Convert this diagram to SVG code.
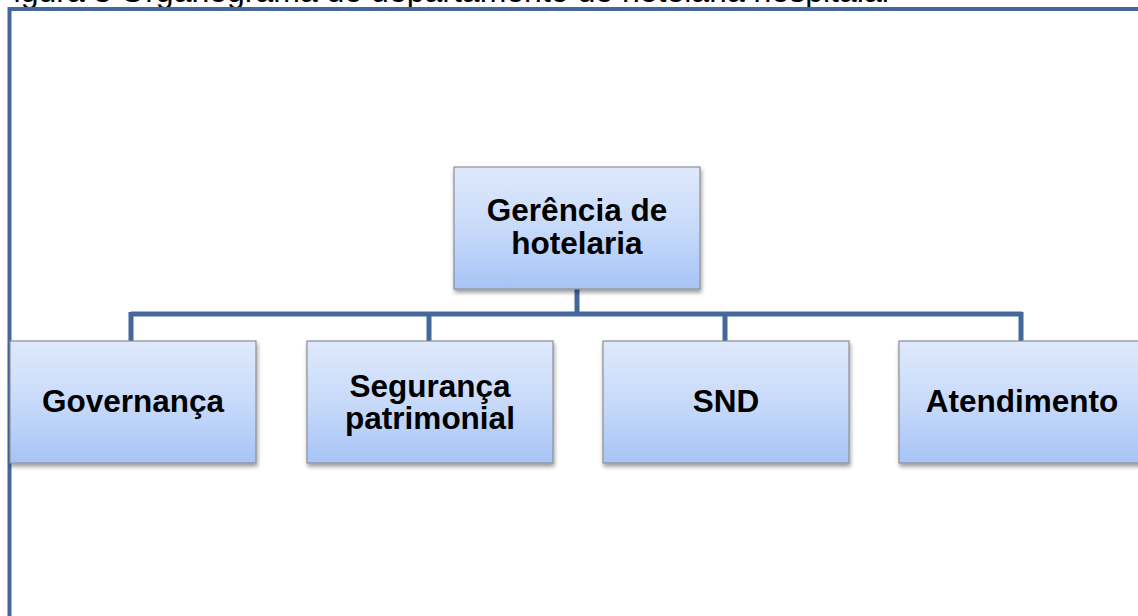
<svg xmlns="http://www.w3.org/2000/svg" width="1138" height="616" viewBox="0 0 1138 616">
<style>
.cap{font-family:"Liberation Sans",Arial,sans-serif;font-size:32px;fill:#000}
.lbl{font-family:"Liberation Sans",Arial,sans-serif;font-size:31.5px;font-weight:bold;fill:#000;text-anchor:middle}
.box{fill:url(#g);stroke:#8a8f96;stroke-width:1.2;filter:url(#sh)}
.con{fill:none;stroke:#44689a;stroke-width:5}
</style>
<defs>
<linearGradient id="g" x1="0" y1="0" x2="0" y2="1">
<stop offset="0" stop-color="#dfe9fb"/>
<stop offset="0.5" stop-color="#c8dafa"/>
<stop offset="1" stop-color="#a7c4f6"/>
</linearGradient>
<filter id="sh" x="-10%" y="-10%" width="125%" height="130%">
<feGaussianBlur in="SourceAlpha" stdDeviation="2"/>
<feOffset dx="1" dy="3" result="b"/>
<feComponentTransfer in="b" result="c"><feFuncA type="linear" slope="0.4"/></feComponentTransfer>
<feMerge><feMergeNode in="c"/><feMergeNode in="SourceGraphic"/></feMerge>
</filter>
</defs>
<rect width="1138" height="616" fill="#fff"/>
<text class="cap" x="-6" y="2">Figura 3 Organograma do departamento de hotelaria hospitalar</text>
<rect x="9.5" y="9" width="1140" height="620" fill="none" stroke="#44689a" stroke-width="4"/>
<g id="connectors">
<path class="con" d="M577 289V314M131 314H1022M131 312V341M429 312V341M725 312V341M1021 312V341"/>
</g>
<g id="n-gerencia"><rect class="box" x="454" y="167" width="246" height="122"/>
<text class="lbl" x="577" y="221">Gerência de</text><text class="lbl" x="577" y="254">hotelaria</text></g>
<g id="n-governanca"><rect class="box" x="10" y="341" width="246" height="122"/>
<text class="lbl" x="133" y="412">Governança</text></g>
<g id="n-seguranca"><rect class="box" x="307" y="341" width="246" height="122"/>
<text class="lbl" x="430" y="397">Segurança</text><text class="lbl" x="430" y="429">patrimonial</text></g>
<g id="n-snd"><rect class="box" x="603" y="341" width="246" height="122"/>
<text class="lbl" x="726" y="412">SND</text></g>
<g id="n-atendimento"><rect class="box" x="899" y="341" width="246" height="122"/>
<text class="lbl" x="1022" y="412">Atendimento</text></g>
</svg>
